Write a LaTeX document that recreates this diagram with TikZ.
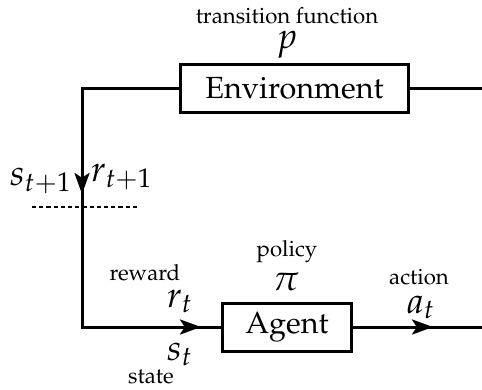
\documentclass[tikz,border=0pt]{standalone}
\usepackage[T1]{fontenc}
\usepackage{mathpazo}
\usetikzlibrary{arrows.meta}
\begin{document}
\begin{tikzpicture}[x=0.3333pt,y=-0.3333pt,
  wire/.style={line width=1pt},
  box/.style={draw,line width=1pt,inner sep=0pt,minimum height=16pt,font=\fontsize{10.2}{12}\selectfont},
  tip/.style={wire,-{Stealth[length=7pt,width=5pt,inset=1.6pt]}},
  lab/.style={inner sep=0pt,anchor=base,font=\fontsize{7.4}{9}\selectfont},
  mth/.style={inner sep=0pt,anchor=base,font=\fontsize{12}{14}\selectfont}]
\useasboundingbox (0,0) rectangle (482,389);
\node[box,minimum width=75.7pt] (env) at (294.5,88) {Environment};
\node[box,minimum width=43.3pt] (agent) at (287,327) {Agent};
\coordinate (c1) at (82,88);
\coordinate (c2) at (82,327);
\coordinate (envR) at (482,88);
\coordinate (outR) at (482,327);
\coordinate (dn) at (82,194);
\coordinate (inTip) at (201,327);
\coordinate (outTip) at (433,327);
\draw[wire] (env.east) -- (envR);
\draw[wire] (env.west) -- (c1) -- (c2) -- (agent.west);
\draw[wire] (agent.east) -- (outR);
\draw[tip] (c1) -- (dn);
\draw[tip] (c2) -- (inTip);
\draw[tip] (agent.east) -- (outTip);
\coordinate (dl) at (32,207);
\coordinate (dr) at (140,207);
\draw[line width=0.6pt,dash pattern=on 1.4pt off 1pt] (dl) -- (dr);
% labels
\node[lab] (tf) at (287,23) {transition function};
\node[mth] (p) at (287,48) {$p$};
\node[lab] (pol) at (287,256) {policy};
\node[mth] (pi) at (286,290) {$\pi$};
\node[lab] (act) at (419,284) {action};
\node[mth] (at) at (421,313) {$a_t$};
\node[lab] (rew) at (145,280) {reward};
\node[mth] (rt) at (180,307) {$r_t$};
\node[mth] (st) at (180,360) {$s_t$};
\node[lab] (state) at (151,383) {state};
\node[mth] (st1) at (41,185) {$s_{t+1}$};
\node[mth] (rt1) at (122,181) {$r_{t+1}$};
\end{tikzpicture}
\end{document}
